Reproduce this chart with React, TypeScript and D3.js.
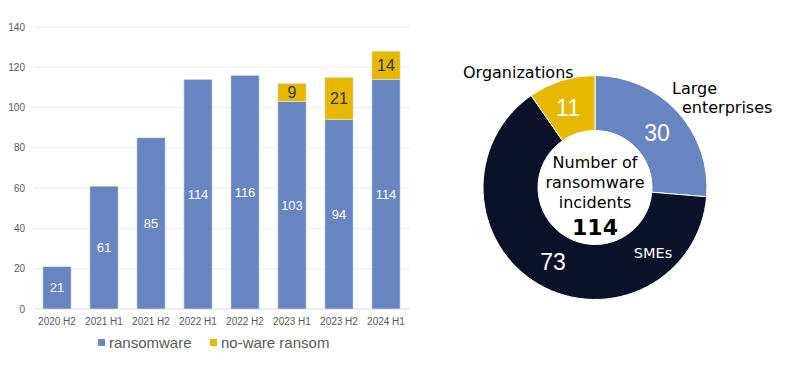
import React from 'react';
import * as d3 from 'd3';

const periods = ['2020 H2', '2021 H1', '2021 H2', '2022 H1', '2022 H2', '2023 H1', '2023 H2', '2024 H1'];
const ransomware = [21, 61, 85, 114, 116, 103, 94, 114];
const nowareRansom = [0, 0, 0, 0, 0, 9, 21, 14];
const yTicks = [0, 20, 40, 60, 80, 100, 120, 140];

const orgTypes = ['Large enterprises', 'SMEs', 'Organizations'];
const orgCounts = [30, 73, 11];

const BLUE = '#6785c1';
const YELLOW = '#e6b800';
const NAVY = '#0b1128';

const App = () => {
  // bar chart scales
  const x = d3.scaleBand().domain(periods).range([33.5, 409.5]).paddingInner(0.4).paddingOuter(0.2);
  const y = d3.scaleLinear().domain([0, 140]).range([309, 27]);

  const rows = periods.map((p, i) => ({ period: p, ransomware: ransomware[i], noware: nowareRansom[i] }));
  const stacked = d3.stack<any>().keys(['ransomware', 'noware'])(rows);
  const colors = [BLUE, YELLOW];

  // donut
  const cx = 595;
  const cy = 187.5;
  const pie = d3.pie<number>().sort(null).value((d) => d)(orgCounts);
  const arc = d3.arc<d3.PieArcDatum<number>>().innerRadius(57).outerRadius(112);
  const pieColors = [BLUE, NAVY, YELLOW];
  const valuePos: [number, number][] = [
    [657, 133],
    [553, 262],
    [568, 108],
  ];

  return (
    <svg width={800} height={369} style={{ position: 'absolute', left: 0, top: 0 }}>
      <rect width={800} height={369} fill="#fff" />
      {/* grid + y labels */}
      {yTicks.map((t) => (
        <g key={t}>
          <line x1={34} x2={410} y1={y(t)} y2={y(t)} stroke={t === 0 ? '#d9d9d9' : '#ececec'} strokeWidth={1} />
          <text x={25} y={y(t)} dy="0.35em" textAnchor="end" fontSize={10} fill="#595959" fontFamily="Liberation Sans, Arial">
            {t}
          </text>
        </g>
      ))}
      {/* bars */}
      {stacked.map((s, si) =>
        s.map((d, i) => {
          const h = y(d[0]) - y(d[1]);
          if (h <= 0) return null;
          const val = d[1] - d[0];
          return (
            <g key={`${si}-${i}`}>
              <rect
                x={x(periods[i])}
                y={y(d[1])}
                width={x.bandwidth()}
                height={h}
                fill={colors[si]}
                stroke="#dfe6f3"
                strokeWidth={0.6}
              />
              <text
                x={(x(periods[i]) as number) + x.bandwidth() / 2}
                y={(y(d[0]) + y(d[1])) / 2}
                dy="0.35em"
                textAnchor="middle"
                fontSize={si === 0 ? 13 : 16}
                fill={si === 0 ? '#fff' : '#333'}
                fontFamily="Liberation Sans, Arial"
              >
                {val}
              </text>
            </g>
          );
        })
      )}
      {/* x labels */}
      {periods.map((p) => (
        <text
          key={p}
          x={(x(p) as number) + x.bandwidth() / 2}
          y={321}
          dy="0.35em"
          textAnchor="middle"
          fontSize={10}
          fill="#595959"
          fontFamily="Liberation Sans, Arial"
        >
          {p}
        </text>
      ))}
      {/* legend */}
      <g fontFamily="Liberation Sans, Arial" fontSize={15} fill="#595959">
        <rect x={98} y={339} width={7} height={7} fill={BLUE} />
        <text x={109} y={343} dy="0.35em">ransomware</text>
        <rect x={210} y={339} width={7} height={7} fill={YELLOW} />
        <text x={221} y={343} dy="0.35em">no-ware ransom</text>
      </g>

      {/* donut */}
      <g transform={`translate(${cx},${cy})`}>
        {pie.map((d, i) => (
          <path key={orgTypes[i]} d={arc(d) as string} fill={pieColors[i]} stroke="#fff" strokeWidth={1} />
        ))}
      </g>
      {pie.map((d, i) => (
        <text
          key={`v-${i}`}
          x={valuePos[i][0]}
          y={valuePos[i][1]}
          dy="0.35em"
          textAnchor="middle"
          fontSize={23}
          fill="#fff"
          fontFamily="Liberation Sans, Arial"
        >
          {d.data}
        </text>
      ))}
      <g fontFamily="DejaVu Sans, Verdana" fontSize={16}>
        <text x={653} y={253} dy="0.35em" textAnchor="middle" fill="#fff" fontSize={14.5}>SMEs</text>
        <text x={672} y={88} dy="0.35em" fill="#000">Large</text>
        <text x={682} y={107} dy="0.35em" fill="#000">enterprises</text>
        <text x={463} y={72} dy="0.35em" fill="#000">Organizations</text>
        <text x={595} y={162} dy="0.35em" textAnchor="middle" fill="#000">Number of</text>
        <text x={595} y={182} dy="0.35em" textAnchor="middle" fill="#000">ransomware</text>
        <text x={595} y={202} dy="0.35em" textAnchor="middle" fill="#000">incidents</text>
        <text x={595} y={227} dy="0.35em" textAnchor="middle" fill="#000" fontWeight="bold" fontSize={22}>
          {orgCounts.reduce((a, b) => a + b, 0)}
        </text>
      </g>
    </svg>
  );
};

export default App;
